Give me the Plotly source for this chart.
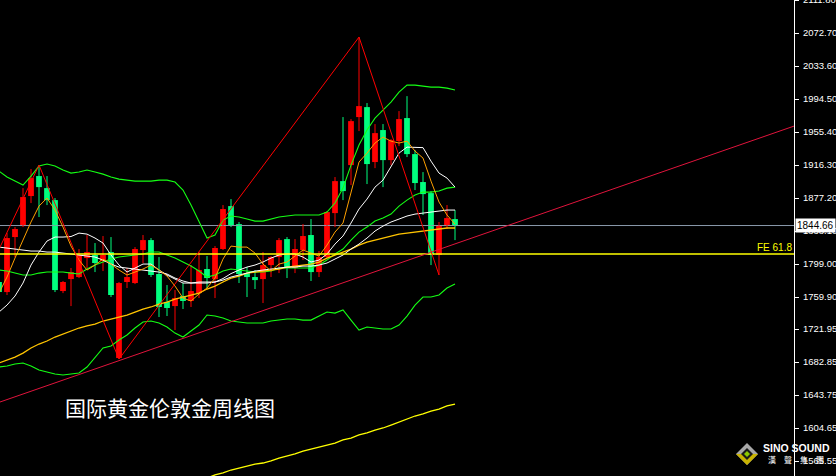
import plotly.graph_objects as go

# ---- data (weekly gold candles, index -1 .. 56) ----
idx = list(range(-1, 57))
opens = [1777.7, 1765.8, 1831.0, 1844.0, 1879.6, 1903.3, 1889.0, 1874.8, 1767.0, 1781.2,
         1783.6, 1806.1, 1809.7, 1802.6, 1813.2, 1687.6, 1777.7, 1776.5, 1815.6, 1827.4,
         1787.2, 1754.0, 1749.2, 1761.1, 1755.2, 1764.6, 1793.1, 1781.2, 1816.8, 1867.7,
         1846.4, 1788.3, 1783.6, 1781.2, 1797.8, 1807.3, 1828.6, 1794.3, 1815.6, 1833.4,
         1789.5, 1807.3, 1859.4, 1897.3, 1916.3, 1973.2, 1985.0, 1919.9, 1957.8, 1922.2,
         1944.7, 1972.0, 1929.3, 1896.2, 1883.1, 1809.7, 1844.0, 1852.3]
highs = [1786.0, 1835.7, 1842.8, 1889.0, 1911.6, 1916.3, 1903.3, 1877.2, 1778.9, 1794.3,
         1816.8, 1833.4, 1823.9, 1832.2, 1831.0, 1777.7, 1794.3, 1819.1, 1833.4, 1829.8,
         1807.3, 1774.1, 1768.2, 1776.5, 1797.8, 1813.2, 1808.5, 1820.3, 1868.9, 1876.0,
         1848.8, 1795.4, 1791.9, 1813.2, 1808.5, 1829.8, 1831.0, 1828.6, 1846.4, 1852.3,
         1814.4, 1861.8, 1902.1, 1973.2, 1970.8, 2068.0, 1989.8, 1964.9, 1964.9, 1947.1,
         1980.3, 1998.0, 1934.1, 1908.0, 1885.5, 1848.8, 1868.9, 1863.0]
lows = [1758.7, 1762.3, 1807.3, 1842.8, 1871.3, 1854.7, 1868.9, 1765.8, 1764.6, 1749.2,
        1782.4, 1794.3, 1789.5, 1790.7, 1759.9, 1686.4, 1770.6, 1775.3, 1800.2, 1783.6,
        1736.2, 1737.4, 1720.8, 1745.7, 1748.1, 1758.7, 1770.6, 1758.7, 1815.6, 1842.8,
        1776.5, 1759.9, 1769.4, 1752.8, 1783.6, 1788.3, 1782.4, 1788.3, 1803.7, 1778.9,
        1783.6, 1806.1, 1842.8, 1874.8, 1892.6, 1956.6, 1893.8, 1912.7, 1890.2, 1916.3,
        1938.8, 1925.8, 1886.7, 1857.1, 1797.8, 1786.0, 1840.5, 1827.4]
closes = [1765.8, 1829.8, 1840.5, 1878.4, 1900.9, 1890.2, 1874.8, 1768.2, 1777.7, 1789.5,
          1809.7, 1813.2, 1800.2, 1809.7, 1762.3, 1776.5, 1783.6, 1816.8, 1827.4, 1786.0,
          1748.1, 1746.9, 1758.7, 1755.2, 1767.0, 1791.9, 1782.4, 1818.0, 1864.2, 1845.2,
          1787.2, 1783.6, 1780.0, 1797.8, 1807.3, 1827.4, 1794.3, 1816.8, 1832.2, 1789.5,
          1807.3, 1860.6, 1897.3, 1885.5, 1968.4, 1986.2, 1917.5, 1954.2, 1922.2, 1945.9,
          1970.8, 1929.3, 1895.0, 1881.9, 1809.7, 1845.2, 1853.5, 1844.66]

# ---- indicator lines ----
bb_up = [1909.2, 1902.1, 1897.3, 1892.6, 1903.3, 1915.1, 1917.5, 1915.1, 1910.4, 1906.8,
         1908.0, 1910.4, 1908.0, 1905.6, 1902.1, 1899.7, 1898.5, 1897.3, 1897.3, 1897.3,
         1898.5, 1898.5, 1896.2, 1886.7, 1868.9, 1848.8, 1829.8, 1833.4, 1851.1, 1855.9,
         1854.7, 1852.3, 1849.9, 1849.9, 1852.3, 1854.7, 1855.9, 1857.1, 1857.1, 1857.1,
         1857.1, 1860.6, 1871.3, 1889.0, 1916.3, 1940.0, 1957.8, 1972.0, 1981.5, 1991.0,
         2002.8, 2011.1, 2011.1, 2009.9, 2008.7, 2008.7, 2007.5, 2005.2]
bb_mid = [1791.9, 1790.7, 1788.3, 1786.0, 1786.0, 1788.3, 1789.5, 1789.5, 1789.5, 1788.3,
          1787.2, 1793.1, 1797.8, 1801.4, 1804.9, 1807.3, 1808.5, 1809.7, 1810.9, 1813.2,
          1813.2, 1809.7, 1806.1, 1801.4, 1796.6, 1790.7, 1783.6, 1786.0, 1790.7, 1793.1,
          1791.9, 1790.7, 1789.5, 1789.5, 1790.7, 1794.3, 1794.3, 1794.3, 1794.3, 1794.3,
          1797.8, 1803.7, 1810.9, 1816.8, 1827.4, 1836.9, 1842.8, 1849.9, 1853.5, 1858.2,
          1867.7, 1874.8, 1880.8, 1884.3, 1884.3, 1885.5, 1889.0, 1890.2]
bb_low = [1677.0, 1678.1, 1680.5, 1681.7, 1678.1, 1673.4, 1671.0, 1668.7, 1667.5, 1668.7,
          1669.8, 1677.0, 1688.8, 1699.5, 1701.8, 1709.0, 1714.9, 1723.2, 1730.3, 1731.5,
          1729.1, 1724.4, 1717.2, 1712.5, 1719.6, 1726.7, 1738.6, 1737.4, 1735.0, 1731.5,
          1730.3, 1729.1, 1729.1, 1729.1, 1731.5, 1732.6, 1733.8, 1733.8, 1732.6, 1732.6,
          1737.4, 1742.1, 1740.9, 1744.5, 1732.6, 1720.8, 1724.4, 1723.2, 1722.0, 1722.0,
          1726.7, 1737.4, 1750.4, 1759.9, 1759.9, 1762.3, 1770.6, 1775.3]
ma_orange = [1764.6, 1783.6, 1806.1, 1827.4, 1848.8, 1867.7, 1877.2, 1863.0, 1842.8, 1820.3,
             1803.7, 1791.9, 1797.8, 1804.9, 1799.0, 1791.9, 1786.0, 1789.5, 1793.1, 1797.8,
             1791.9, 1784.8, 1772.9, 1758.7, 1755.2, 1763.5, 1770.6, 1782.4, 1804.9, 1820.3,
             1819.1, 1819.1, 1812.0, 1799.0, 1790.7, 1799.0, 1801.4, 1808.5, 1815.6, 1812.0,
             1808.5, 1821.5, 1836.9, 1847.6, 1884.3, 1919.9, 1930.5, 1942.4, 1949.5, 1944.7,
             1942.4, 1944.7, 1932.9, 1924.6, 1897.3, 1872.5, 1857.1, 1846.4]
ma_white1 = [1742.1, 1750.4, 1761.1, 1776.5, 1797.8, 1813.2, 1826.3, 1831.0, 1831.0, 1831.6,
             1835.7, 1834.5, 1829.8, 1823.9, 1809.7, 1797.8, 1789.5, 1794.3, 1799.0, 1799.0,
             1791.9, 1786.0, 1781.2, 1776.5, 1776.5, 1777.7, 1777.7, 1777.7, 1781.8, 1787.7,
             1791.9, 1795.4, 1797.8, 1801.4, 1806.1, 1809.7, 1810.9, 1810.9, 1807.3, 1801.4,
             1803.7, 1810.9, 1822.7, 1832.2, 1847.6, 1864.2, 1876.0, 1890.2, 1898.5, 1914.5,
             1930.5, 1937.6, 1937.6, 1937.0, 1921.0, 1906.8, 1900.9, 1890.2]
ma_white2 = [1819.1, 1818.0, 1816.8, 1815.6, 1814.4, 1814.4, 1813.2, 1813.2, 1812.0, 1810.9,
             1809.7, 1808.5, 1807.3, 1803.7, 1799.0, 1795.4, 1794.3, 1793.1, 1791.9, 1790.7,
             1789.5, 1787.2, 1782.4, 1778.9, 1776.5, 1776.5, 1776.5, 1777.7, 1780.0, 1783.6,
             1786.0, 1788.3, 1790.7, 1791.9, 1793.1, 1794.3, 1795.4, 1795.4, 1796.6, 1796.6,
             1797.8, 1800.2, 1804.9, 1809.7, 1816.8, 1822.7, 1829.8, 1838.1, 1844.0, 1848.8,
             1852.3, 1855.9, 1858.2, 1859.4, 1860.6, 1861.8, 1863.0, 1863.0]
ma_gold = [1681.7, 1685.3, 1688.8, 1693.5, 1699.5, 1704.2, 1707.8, 1712.5, 1716.1, 1719.6,
           1723.2, 1725.6, 1727.9, 1731.5, 1733.8, 1736.2, 1738.6, 1742.1, 1745.7, 1748.1,
           1751.6, 1754.0, 1757.5, 1759.9, 1762.3, 1764.6, 1769.4, 1772.9, 1777.7, 1782.4,
           1784.8, 1788.3, 1789.5, 1790.7, 1791.9, 1793.1, 1795.4, 1796.6, 1797.8, 1799.0,
           1801.4, 1806.1, 1809.7, 1813.2, 1816.8, 1821.5, 1825.1, 1827.4, 1829.8, 1832.2,
           1834.5, 1835.7, 1836.9, 1838.1, 1839.3, 1840.5, 1841.7, 1841.7]
long_idx = list(range(24, 57))
ma_long = [1543.1, 1545.4, 1549.0, 1551.4, 1554.9, 1557.3, 1559.7, 1562.0, 1563.2, 1565.6,
           1569.1, 1571.5, 1573.9, 1577.4, 1579.8, 1582.2, 1584.5, 1586.9, 1590.5, 1592.8,
           1596.4, 1598.8, 1602.3, 1604.7, 1608.2, 1611.8, 1615.3, 1618.9, 1621.3, 1624.8,
           1627.2, 1630.8, 1633.1]

zigzag_idx = [-8, 4, 14, 44, 54]
zigzag_val = [1677.0, 1916.3, 1686.4, 2068.0, 1786.0]

trend_idx = [-0.875, 98.375]
trend_val = [1635.5, 1962.5]

current_price = 1844.66
fe_level = 1810.9

tick_vals = [2111.80, 2072.70, 2033.60, 1994.50, 1955.40, 1916.30, 1877.20, 1838.10,
             1799.00, 1759.90, 1721.95, 1682.85, 1643.75, 1604.65, 1565.55]
tick_text = ["%.2f" % v for v in tick_vals]

RED = "#FF0000"
GRN = "#00FF7F"
BB = "#14FF14"

fig = go.Figure()

# current price level
fig.add_trace(go.Scatter(x=[-0.875, 98.375], y=[current_price, current_price], mode="lines",
                         line=dict(color="#8A99AA", width=1), hoverinfo="skip"))

# wicks
wx_r, wy_r, wx_g, wy_g = [], [], [], []
for k, o, h, l, c in zip(idx, opens, highs, lows, closes):
    if c >= o:
        wx_r += [k, k, None]; wy_r += [l, h, None]
    else:
        wx_g += [k, k, None]; wy_g += [l, h, None]
fig.add_trace(go.Scatter(x=wx_r, y=wy_r, mode="lines", line=dict(color=RED, width=1), hoverinfo="skip"))
fig.add_trace(go.Scatter(x=wx_g, y=wy_g, mode="lines", line=dict(color=GRN, width=1), hoverinfo="skip"))

# bodies
bases, hts, cols = [], [], []
for o, c in zip(opens, closes):
    bases.append(min(o, c))
    hts.append(max(abs(c - o), 1.2))
    cols.append(RED if c >= o else GRN)
fig.add_trace(go.Bar(x=idx, y=hts, base=bases, width=0.72, marker=dict(color=cols, line=dict(width=0)),
                     hoverinfo="skip"))

def line(x, y, color, w=1.0):
    fig.add_trace(go.Scatter(x=x, y=y, mode="lines", line=dict(color=color, width=w), hoverinfo="skip"))

line(idx, bb_up, BB, 1.1)
line(idx, bb_mid, BB, 1.1)
line(idx, bb_low, BB, 1.1)
line(idx, ma_gold, "#FFC400", 1.3)
line(idx, ma_white2, "#FFFFFF")
line(idx, ma_white1, "#FFFFFF")
line(idx, ma_orange, "#FFA000")
line(long_idx, ma_long, "#FFFF00", 1.3)
line([-0.875, 98.375], [fe_level, fe_level], "#FFFF00", 1.3)
line(trend_idx, trend_val, "#E0143C")
line(zigzag_idx, zigzag_val, RED)

W_PLOT = 794.0
def px(xp, yp):
    return xp / W_PLOT, 1 - yp / 476.0

def path(pts):
    s = ""
    for i, (a, b) in enumerate(pts):
        x, y = px(a, b)
        s += ("M" if i == 0 else "L") + " %.5f %.5f " % (x, y)
    return s + "Z"

shapes = [
    dict(type="path", xref="paper", yref="paper", path=path([(747, 443), (758, 454), (747, 465), (736, 454)]),
         fillcolor="#A8A8A8", line=dict(width=0)),
    dict(type="path", xref="paper", yref="paper", path=path([(736, 454), (758, 454), (747, 465)]),
         fillcolor="#C9B300", line=dict(width=0)),
    dict(type="path", xref="paper", yref="paper", path=path([(747, 448), (753, 454), (747, 460), (741, 454)]),
         fillcolor="#1A1A1A", line=dict(width=0)),
    dict(type="path", xref="paper", yref="paper", path=path([(747, 451), (750, 454), (747, 457), (744, 454)]),
         fillcolor="#8CC800", line=dict(width=0)),
]

annotations = [
    dict(text="国际黄金伦敦金周线图", xref="paper", yref="paper", x=63 / W_PLOT, y=1 - 407 / 476.0,
         xanchor="left", yanchor="middle", showarrow=False,
         font=dict(family="Noto Sans CJK SC", size=21, color="#FFFFFF")),
    dict(text="FE 61.8", xref="paper", yref="y", x=1, y=fe_level, xanchor="right", yanchor="bottom",
         showarrow=False, yshift=-1, font=dict(family="Liberation Sans", size=10, color="#FFFF00")),
    dict(text="1844.66", xref="paper", yref="y", x=1, y=current_price, xanchor="left", yanchor="middle",
         showarrow=False, bgcolor="#FFFFFF", borderpad=1, xshift=1,
         font=dict(family="Liberation Sans", size=10, color="#000000")),
    dict(text="<b>SINO SOUND</b>", xref="paper", yref="paper", x=796 / W_PLOT, y=1 - 448 / 476.0,
         xanchor="center", yanchor="middle", showarrow=False,
         font=dict(family="Liberation Sans", size=10.5, color="#FFFFFF")),
    dict(text="漢　聲　集　團", xref="paper", yref="paper", x=796 / W_PLOT, y=1 - 459 / 476.0,
         xanchor="center", yanchor="middle", showarrow=False,
         font=dict(family="Noto Sans CJK TC", size=8, color="#FFFFFF")),
]

fig.update_layout(
    width=836, height=476, autosize=False,
    margin=dict(l=0, r=42, t=0, b=0, autoexpand=False),
    paper_bgcolor="#000000", plot_bgcolor="#000000",
    showlegend=False, barmode="overlay",
    xaxis=dict(range=[-0.875, 98.375], visible=False, fixedrange=True, automargin=False),
    yaxis=dict(range=[1547.8, 2111.95], side="right", showgrid=False, zeroline=False,
               showline=True, linecolor="#FFFFFF", linewidth=1, automargin=False,
               ticks="outside", ticklen=4, tickcolor="#FFFFFF", tickwidth=1,
               ticklabelstandoff=2, ticklabeloverflow="allow",
               tickvals=tick_vals, ticktext=tick_text,
               tickfont=dict(family="Liberation Sans", size=9.5, color="#FFFFFF"), fixedrange=True),
    shapes=shapes, annotations=annotations,
)

fig.write_html("out.html", config={"displayModeBar": False},
               post_script="document.body.style.margin='0px';document.body.style.background='#000';")
